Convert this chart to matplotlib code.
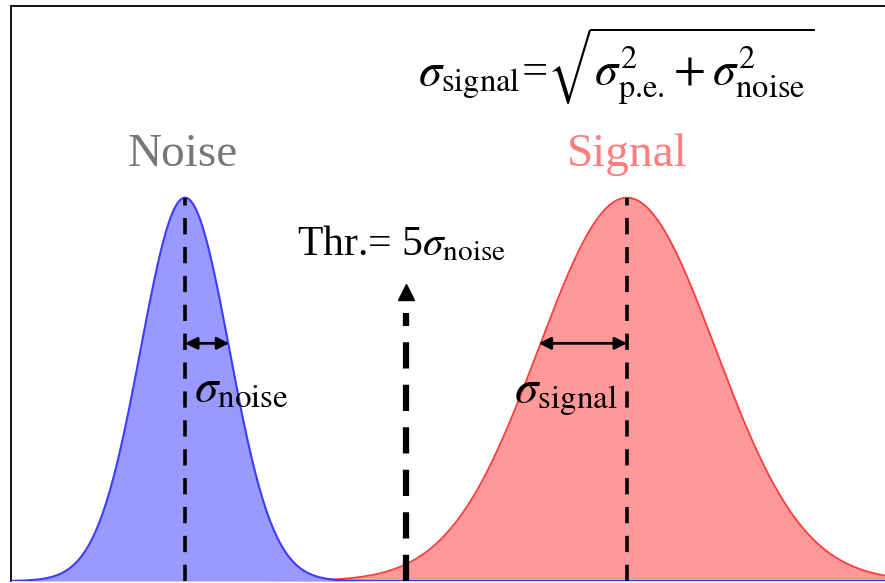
import numpy as np
import matplotlib
matplotlib.use('Agg')
import matplotlib.pyplot as plt

# distribution parameters (noise sigma = 1 unit)
noise_mean, noise_sigma = 0.0, 1.0
signal_mean, signal_sigma = 10.0, 2.0
threshold = 5.0
peak_height = 1.0

plt.rcParams['mathtext.fontset'] = 'stix'
plt.rcParams['font.family'] = ['Liberation Serif', 'DejaVu Serif']

fig = plt.figure(figsize=(8.85, 5.83), dpi=100)
ax = fig.add_axes([11 / 885, 2 / 583, 874 / 885, 575 / 583])

x_lo, x_hi = (11 - 185) / 44.2, (885 - 185) / 44.2
x = np.linspace(x_lo, x_hi, 1000)


def gauss(x, mu, s):
    return peak_height * np.exp(-0.5 * ((x - mu) / s) ** 2)


y_sig = gauss(x, signal_mean, signal_sigma)
y_noi = gauss(x, noise_mean, noise_sigma)

ax.fill_between(x, 0, y_sig, color='#ff9999', lw=0, zorder=1)
ax.plot(x, y_sig, color='#ff3c3c', lw=1.3, zorder=2)
ax.fill_between(x, 0, y_noi, color='#9999ff', lw=0, zorder=3)
ax.plot(x, y_noi, color='#3c3cff', lw=1.5, zorder=4)

# dashed lines at the means
ax.plot([noise_mean, noise_mean], [0, peak_height], color='black', lw=2.6,
        dashes=(4.5, 3.5), zorder=5)
ax.plot([signal_mean, signal_mean], [0, peak_height], color='black', lw=2.6,
        dashes=(4.5, 3.5), zorder=5)

# threshold arrow
ax.plot([threshold, threshold], [0, 0.70], color='black', lw=4.5,
        dashes=(4.2, 2.6), zorder=5)
ax.plot([threshold], [0.755], marker='^', color='black', ms=11, zorder=5)

# sigma arrows
arr_y = 0.62
ax.annotate('', xy=(noise_mean + noise_sigma, arr_y), xytext=(noise_mean, arr_y),
            arrowprops=dict(arrowstyle='<|-|>', color='black', lw=2,
                            mutation_scale=18, shrinkA=0, shrinkB=0), zorder=6)
ax.annotate('', xy=(signal_mean - signal_sigma, arr_y), xytext=(signal_mean, arr_y),
            arrowprops=dict(arrowstyle='<|-|>', color='black', lw=2,
                            mutation_scale=18, shrinkA=0, shrinkB=0), zorder=6)

# labels
ax.text(noise_mean - 0.05, 1.112, 'Noise', color='#777777', fontsize=34,
        ha='center', va='center')
ax.text(signal_mean, 1.112, 'Signal', color='#ff7f7f', fontsize=34,
        ha='center', va='center')
ax.text(2.53, 0.85, r'Thr.= 5$\sigma_{\mathrm{noise}}$', fontsize=30,
        ha='left', va='baseline', zorder=7)
ax.text(0.2, 0.467, r'$\sigma_{\mathrm{noise}}$', fontsize=34,
        ha='left', va='baseline', zorder=7)
ax.text(7.45, 0.465, r'$\sigma_{\mathrm{signal}}$', fontsize=34,
        ha='left', va='baseline', zorder=7)
ax.text(5.27, 1.292,
        r'$\sigma_{\mathrm{signal}}$=$\sqrt{\sigma^2_{\text{p.e.}}+\sigma^2_{\mathrm{noise}}}$',
        fontsize=33.5, ha='left', va='baseline', zorder=7)

ax.set_xlim(x_lo, x_hi)
ax.set_ylim(0, 1.5)
ax.set_xticks([])
ax.set_yticks([])
for side in ['right', 'bottom']:
    ax.spines[side].set_visible(False)
for side in ['left', 'top']:
    ax.spines[side].set_linewidth(1.3)

fig.savefig('out.png', dpi=100)
